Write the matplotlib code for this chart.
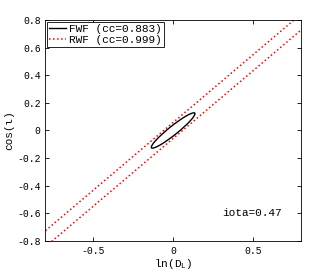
import numpy as np
import matplotlib
matplotlib.use("Agg")
import matplotlib.pyplot as plt
from matplotlib.patches import Ellipse

plt.rcParams['font.family'] = ['Liberation Mono', 'DejaVu Sans Mono']
plt.rcParams['mathtext.fontset'] = 'custom'
plt.rcParams['mathtext.rm'] = 'Liberation Mono'
plt.rcParams['mathtext.it'] = 'Liberation Mono'

# RWF band edges (ln D_L, cos iota)
rwf_x = [-0.8, 0.8]
rwf_upper = [-0.726, 0.842]
rwf_lower = [-0.842, 0.726]

# FWF ellipse: centre, full axes, angle (deg)
fwf_center = (0.0, 0.0)
fwf_width = 0.37
fwf_height = 0.06
fwf_angle = 43.0

labels = ["FWF (cc=0.883)", "RWF (cc=0.999)"]
xticks = [-0.5, 0, 0.5]
yticks = [-0.8, -0.6, -0.4, -0.2, 0, 0.2, 0.4, 0.6, 0.8]

fig = plt.figure(figsize=(3.32, 2.71), dpi=100)
ax = fig.add_axes([0.137, 0.111, 0.769, 0.815])

ell = Ellipse(fwf_center, fwf_width, fwf_height, angle=fwf_angle,
              fill=False, edgecolor='black', linewidth=1.0)
ax.add_patch(ell)
ax.plot([], [], color='black', linewidth=1.0, label=labels[0])
ax.plot(rwf_x, rwf_upper, color='red', linestyle=':', linewidth=1.1, label=labels[1])
ax.plot(rwf_x, rwf_lower, color='red', linestyle=':', linewidth=1.1)

ax.set_xlim(-0.8, 0.8)
ax.set_ylim(-0.8, 0.8)
ax.set_xticks(xticks)
ax.set_xticklabels(["-0.5", "0", "0.5"])
ax.set_yticks(yticks)
ax.set_yticklabels(["-0.8", "-0.6", "-0.4", "-0.2", "0", "0.2", "0.4", "0.6", "0.8"])
ax.tick_params(direction='in', top=True, right=True, labelsize=7, length=3, width=0.6)
for s in ax.spines.values():
    s.set_linewidth(0.6)

ax.set_xlabel("ln(D$_{\\rm L}$)", fontsize=8, labelpad=1)
ax.set_ylabel("cos(ι)", fontsize=8, labelpad=2)

ax.text(0.305, -0.6, "iota=0.47", fontsize=8, va='center', ha='left')

leg = ax.legend(loc='upper left', fontsize=8, handlelength=1.5, handletextpad=0.3,
                borderpad=0.2, labelspacing=0.1, borderaxespad=0.15,
                fancybox=False, edgecolor='black', framealpha=1)
leg.get_frame().set_linewidth(0.6)

fig.savefig("out.png", dpi=100)
